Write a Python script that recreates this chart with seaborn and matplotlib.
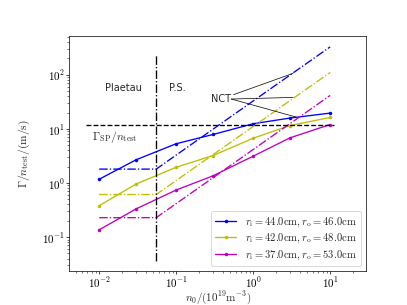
import numpy as np
import pandas as pd
import matplotlib
matplotlib.use('Agg')
import matplotlib.pyplot as plt
import seaborn as sns
from matplotlib.ticker import FuncFormatter

# data
n0 = [0.01, 0.03, 0.1, 0.3, 1.0, 3.0, 10.0]
flux_blue = [1.17, 2.67, 5.3, 7.85, 12.4, 15.8, 19.5]
flux_yellow = [0.38, 0.95, 1.95, 3.2, 6.7, 11.5, 16.2]
flux_magenta = [0.136, 0.33, 0.74, 1.35, 3.12, 6.8, 12.0]

# plateau / NCT estimates (dash-dot)
nct_x = [0.01, 0.055, 10.0]
nct_blue = [1.8, 1.8, 327.0]
nct_yellow = [0.61, 0.61, 110.0]
nct_magenta = [0.228, 0.228, 41.4]

labels = [r'$r_\mathrm{i}=44.0\mathrm{cm}, r_\mathrm{o}=46.0\mathrm{cm}$',
          r'$r_\mathrm{i}=42.0\mathrm{cm}, r_\mathrm{o}=48.0\mathrm{cm}$',
          r'$r_\mathrm{i}=37.0\mathrm{cm}, r_\mathrm{o}=53.0\mathrm{cm}$']
colors = ['b', 'y', 'm']

gamma_sp = 11.9
n_boundary = 0.0545

sns.set_style('ticks', {'axes.edgecolor': 'black', 'xtick.color': 'black', 'ytick.color': 'black'})
plt.rcParams['font.family'] = ['DejaVu Sans']
plt.rcParams['mathtext.fontset'] = 'cm'
plt.rcParams['xtick.major.size'] = 3.5
plt.rcParams['ytick.major.size'] = 3.5
plt.rcParams['xtick.minor.size'] = 2
plt.rcParams['ytick.minor.size'] = 2

fig = plt.figure(figsize=(6.4, 4.8), dpi=63.6)
ax = fig.add_axes([0.17, 0.111, 0.73, 0.771])

for ys, c, lab in zip([flux_blue, flux_yellow, flux_magenta], colors, labels):
    sns.lineplot(x=n0, y=ys, color=c, marker='o', markersize=4, markeredgewidth=0,
                 linewidth=1.5, label=lab, ax=ax)

for ys, c in zip([nct_blue, nct_yellow, nct_magenta], colors):
    sns.lineplot(x=nct_x, y=ys, color=c, linestyle='-.', linewidth=1.5, ax=ax)

ax.set_xscale('log')
ax.set_yscale('log')

ax.plot([0.0068, 11.3], [gamma_sp, gamma_sp], 'k--', lw=1.5)
ax.plot([n_boundary, n_boundary], [0.036, 235], 'k-.', lw=1.5)

ax.text(0.0205, 58, 'Plaetau', ha='center', va='center', fontsize=11)
ax.text(0.102, 58, 'P.S.', ha='center', va='center', fontsize=11)
ax.text(0.0157, 7.2, r'$\Gamma_\mathrm{SP}/n_\mathrm{test}$', ha='center', va='center', fontsize=13)

ax.annotate('NCT', xy=(3.3, 106), xytext=(0.52, 35.5), ha='right', va='center', fontsize=11,
            arrowprops=dict(arrowstyle='-', color='k', lw=0.8, shrinkA=0, shrinkB=0))
ax.annotate('', xy=(3.3, 38), xytext=(0.52, 35.5),
            arrowprops=dict(arrowstyle='-', color='k', lw=0.8, shrinkA=0, shrinkB=0))
ax.annotate('', xy=(3.6, 16.5), xytext=(0.52, 35.5),
            arrowprops=dict(arrowstyle='-', color='k', lw=0.8, shrinkA=0, shrinkB=0))

ax.set_xlim(10 ** -2.39, 10 ** 1.47)
ax.set_ylim(10 ** -1.63, 10 ** 2.72)

fmt = FuncFormatter(lambda v, p: r'$10^{%d}$' % int(round(np.log10(v))))
ax.xaxis.set_major_formatter(fmt)
ax.yaxis.set_major_formatter(fmt)
ax.tick_params(labelsize=12.5, pad=1)

ax.set_xlabel(r'$n_0/(10^{19}\mathrm{m}^{-3})$', fontsize=12.5)
ax.set_ylabel(r'$\Gamma/n_\mathrm{test}/(\mathrm{m/s})$', fontsize=13)
ax.xaxis.set_label_coords(0.5, -0.075)
ax.yaxis.set_label_coords(-0.125, 0.5)

ax.legend(loc='lower right', fontsize=12, labelspacing=0.3)

fig.savefig('out.png', dpi=63.6)
